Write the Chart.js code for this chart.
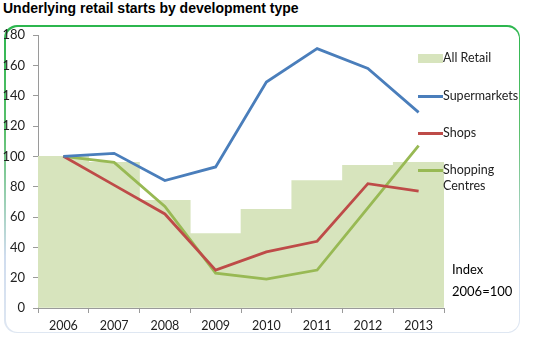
<!DOCTYPE html>
<html>
<head>
<meta charset="utf-8">
<script src="https://cdn.jsdelivr.net/npm/chart.js@4"></script>
<style>
  html, body { margin: 0; padding: 0; background: #fff; }
  #wrap { position: relative; width: 538px; height: 345px; overflow: hidden; }
  #title {
    position: absolute; left: 3px; top: 0px;
    font: bold 14px "Liberation Sans", Arial, sans-serif; color: #000;
  }
  #frame {
    position: absolute; left: 4px; top: 25px; width: 516px; height: 308px;
    border-radius: 13px; box-sizing: border-box; padding: 1.5px;
    background: linear-gradient(to bottom, #2cb64e 0%, #5cc06e 35%, #cfdcee 75%, #dfe7f2 100%);
  }
  #frame div { width: 100%; height: 100%; background: #fff; border-radius: 12px; }
  canvas { position: absolute; left: 0; top: 0; }
  .leg { position: absolute; left: 443px; font: 12.5px Lato, sans-serif; color: #222; line-height: 16px; }
  .swatch { position: absolute; }
  #note { position: absolute; left: 452px; top: 258px; font: 13px Lato, sans-serif; color: #000; line-height: 22px; }
</style>
</head>
<body>
<div id="wrap">
  <div id="title">Underlying retail starts by development type</div>
  <div id="frame"><div></div></div>
  <canvas id="chart" width="538" height="345"></canvas>
  <div id="legend"></div>
  <div id="note">Index<br>2006=100</div>
</div>
<script>
const years = ['2006', '2007', '2008', '2009', '2010', '2011', '2012', '2013'];
const allRetail = [100, 96, 71, 49, 65, 84, 94, 96];
const supermarkets = [100, 102, 84, 93, 149, 171, 158, 129];
const shops = [100, 81, 62, 25, 37, 44, 82, 77];
const shoppingCentres = [100, 96, 67, 23, 19, 25, 66, 107];
const yTicks = [0, 20, 40, 60, 80, 100, 120, 140, 160, 180];

const colors = {
  allRetail: '#d7e4bd',
  supermarkets: '#4a7ebb',
  shops: '#be4b48',
  centres: '#98b954'
};

// legend entries on the right, drawn as html
const legendItems = [
  { label: 'All Retail', color: colors.allRetail, box: true, y: 58 },
  { label: 'Supermarkets', color: colors.supermarkets, y: 96 },
  { label: 'Shops', color: colors.shops, y: 133 },
  { label: 'Shopping<br>Centres', color: colors.centres, y: 170, lines: 2 }
];

const legendEl = document.getElementById('legend');
legendItems.forEach(item => {
  const sw = document.createElement('div');
  sw.className = 'swatch';
  sw.style.left = '418px';
  sw.style.width = '25px';
  sw.style.background = item.color;
  if (item.box) {
    sw.style.top = (item.y - 4) + 'px';
    sw.style.height = '9px';
  } else {
    sw.style.top = (item.y - 1.5) + 'px';
    sw.style.height = '3px';
  }
  legendEl.appendChild(sw);

  const txt = document.createElement('div');
  txt.className = 'leg';
  txt.innerHTML = item.label;
  txt.style.top = (item.y - 8) + 'px';
  legendEl.appendChild(txt);
});

const lineStyle = (data, color) => ({
  type: 'line',
  data: data,
  borderColor: color,
  borderWidth: 2.8,
  pointRadius: 0,
  tension: 0,
  order: 1
});

new Chart(document.getElementById('chart'), {
  data: {
    labels: years,
    datasets: [
      {
        type: 'bar',
        label: 'All Retail',
        data: allRetail,
        backgroundColor: colors.allRetail,
        borderWidth: 0,
        barPercentage: 1,
        categoryPercentage: 1,
        order: 10
      },
      { label: 'Supermarkets', ...lineStyle(supermarkets, colors.supermarkets) },
      { label: 'Shops', ...lineStyle(shops, colors.shops) },
      { label: 'Shopping Centres', ...lineStyle(shoppingCentres, colors.centres) }
    ]
  },
  options: {
    responsive: false,
    animation: false,
    layout: { padding: { left: 0, right: 94, top: 35, bottom: 0 } },
    plugins: { legend: { display: false }, tooltip: { enabled: false } },
    scales: {
      x: {
        offset: true,
        grid: { offset: true, drawOnChartArea: false, tickLength: 5, color: '#9a9a9a' },
        border: { color: '#9a9a9a' },
        ticks: { padding: 5, color: '#222', font: { family: 'Lato', size: 12.5 } },
        afterFit: (scale) => { scale.height = 37; }
      },
      y: {
        min: 0,
        max: 180,
        afterBuildTicks: (scale) => { scale.ticks = yTicks.map(v => ({ value: v })); },
        grid: { drawOnChartArea: false, tickLength: 5, color: '#9a9a9a' },
        border: { color: '#9a9a9a' },
        ticks: { padding: 8, color: '#222', font: { family: 'Lato', size: 13 } },
        afterFit: (scale) => { scale.width = 38; }
      }
    }
  }
});
</script>
</body>
</html>
